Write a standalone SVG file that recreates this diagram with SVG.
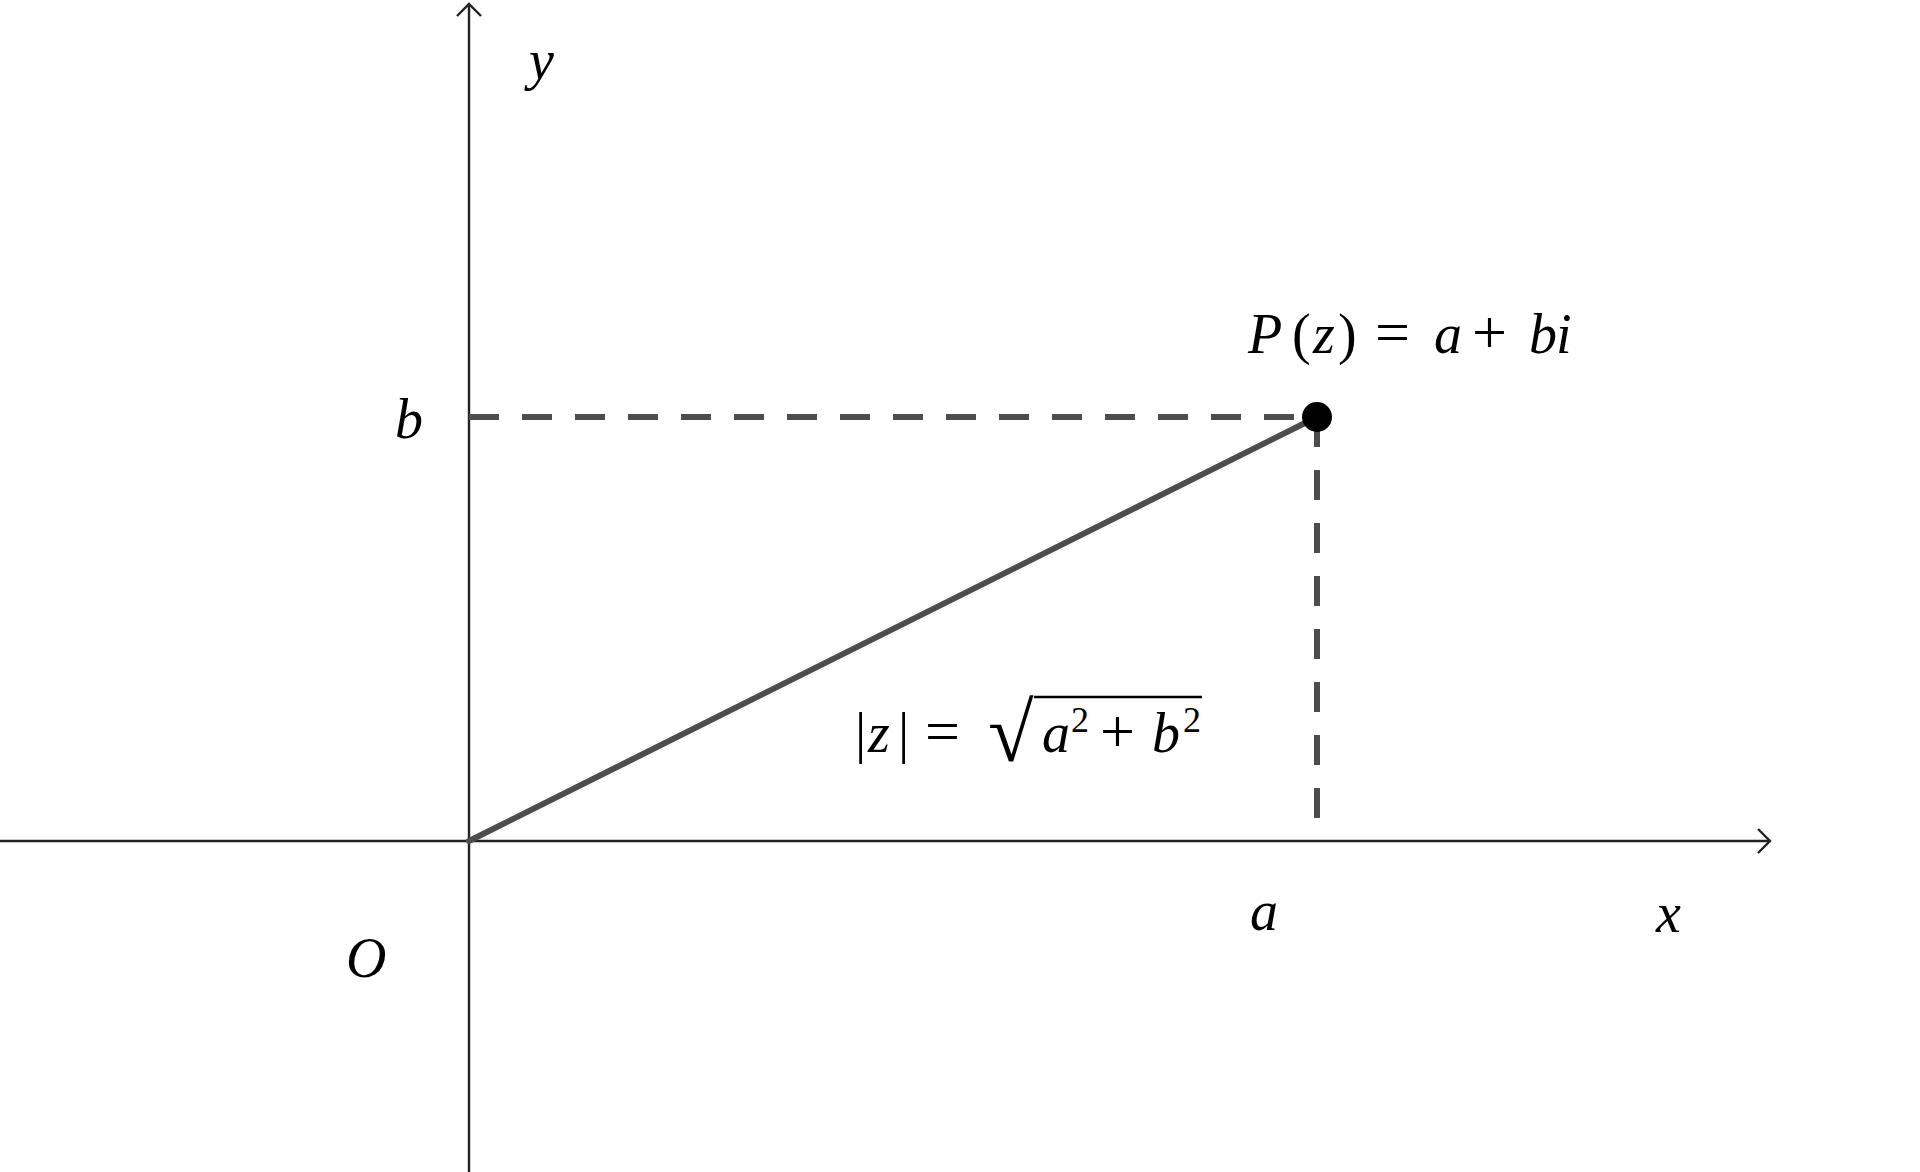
<svg xmlns="http://www.w3.org/2000/svg" width="1920" height="1172" viewBox="0 0 1920 1172">
<defs>
<style>
.axis{stroke:#222;stroke-width:2.4;fill:none}
.dash{stroke:#4d4d4d;stroke-width:6;stroke-dasharray:30 23;fill:none}
.seg{stroke:#4d4d4d;stroke-width:6;fill:none;stroke-linecap:round}
.lbl{font-family:"Liberation Serif","Times New Roman",serif;font-size:56px;fill:#000}
.it{font-style:italic}
.up{font-style:normal}
.op{font-style:normal;font-size:62px}
.rad{font-style:normal;font-size:83px}
.sup{font-size:36px;font-style:normal}
</style>
<marker id="arr" viewBox="-14 -14 16 28" markerWidth="16" markerHeight="28" refX="0" refY="0" orient="auto" markerUnits="userSpaceOnUse">
<path d="M-12,-12 L0,0 L-12,12" fill="none" stroke="#222" stroke-width="2.4"/>
</marker>
</defs>
<rect width="1920" height="1172" fill="#fff"/>
<g id="connectors">
<line id="x-axis" class="axis" x1="0" y1="841" x2="1770" y2="841" marker-end="url(#arr)"/>
<line id="y-axis" class="axis" x1="469" y1="1172" x2="469" y2="4" marker-end="url(#arr)"/>
<line id="dash-h" class="dash" x1="469" y1="417" x2="1317" y2="417"/>
<line id="dash-v" class="dash" x1="1317" y1="417" x2="1317" y2="820"/>
<line id="modulus" class="seg" x1="469" y1="841" x2="1317" y2="417"/>
</g>
<g id="point-P">
<circle cx="1317" cy="417" r="15" fill="#000"/>
<text class="lbl it" x="1248" y="353">P<tspan class="up" x="1292">(</tspan><tspan x="1313">z</tspan><tspan class="up" x="1338">)</tspan><tspan class="op" x="1375">=</tspan><tspan x="1434">a</tspan><tspan class="op" x="1472">+</tspan><tspan x="1529">b</tspan><tspan x="1556">i</tspan></text>
</g>
<g id="modulus-label">
<text class="lbl it" x="855" y="752"><tspan class="up">|</tspan><tspan x="868">z</tspan><tspan class="up" x="898">|</tspan><tspan class="op" x="925">=</tspan><tspan class="rad" x="988" dy="9">√</tspan><tspan x="1042" dy="-9">a</tspan><tspan class="sup" x="1071" dy="-20">2</tspan><tspan class="op" x="1100" dy="20">+</tspan><tspan x="1152">b</tspan><tspan class="sup" x="1183" dy="-20">2</tspan></text>
<line x1="1034" y1="697" x2="1202" y2="697" stroke="#000" stroke-width="2.4"/>
</g>
<g id="labels">
<text class="lbl it" x="529" y="79">y</text>
<text class="lbl it" x="395" y="438">b</text>
<text class="lbl it" x="1250" y="930">a</text>
<text class="lbl it" x="1656" y="932">x</text>
<text class="lbl it" x="346" y="977">O</text>
</g>
</svg>
